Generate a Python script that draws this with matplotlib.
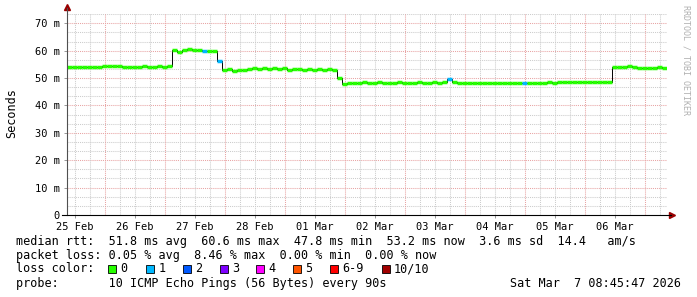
import matplotlib
matplotlib.use("Agg")
import matplotlib.pyplot as plt
import matplotlib.patches as mpatches
import numpy as np

plt.rcParams['font.family'] = ['DejaVu Sans Mono']

# median rtt (ms), one value every 2 hours starting 25 Feb 00:00 - 3.2 h
rtt_median = [
    54.2, 54.2, 54.1, 54.2, 54.2, 54.2, 54.2, 54.3, 54.3, 54.3, 54.3,
    54.2, 54.2, 54.2, 54.2, 54.3, 54.2, 54.2, 54.3, 54.2, 54.4,
    60.2, 59.6, 60.4, 60.6, 60.1, 60.3, 59.8, 59.9, 60.0,
    56.4,
    52.9, 53.4, 52.7, 53.1, 52.8, 53.3, 53.6, 53.3, 53.5, 53.4, 53.6, 53.2,
    53.5, 53.1, 53.3, 53.4, 53.0, 53.2, 52.9, 53.3, 53.1, 53.2, 52.8,
    50.0, 48.0,
    48.1, 48.3, 48.2, 48.4, 48.2, 48.3, 48.5, 48.2, 48.1, 48.3, 48.4, 48.2,
    48.3, 48.2, 48.4, 48.3, 48.2, 48.5, 48.3, 48.4, 49.6, 48.5, 48.3, 48.2,
    48.3, 48.1, 48.2, 48.3, 48.2, 48.1, 48.3, 48.2, 48.1, 48.2, 48.3, 48.2,
    48.1, 48.2, 48.3, 48.2, 48.4, 48.3, 48.5, 48.6, 48.5, 48.6, 48.5, 48.4,
    48.5, 48.6, 48.4, 48.5,
    48.7,
    54.0, 54.2, 53.9, 54.3, 54.0, 53.7, 53.5, 53.8, 53.6, 53.9, 53.7,
]
# samples with a lost ping (index -> loss bucket)
loss_points = {27: 1, 30: 1, 76: 1, 91: 1}

day_labels = ["25 Feb", "26 Feb", "27 Feb", "28 Feb", "01 Mar",
              "02 Mar", "03 Mar", "04 Mar", "05 Mar", "06 Mar"]
loss_labels = ["0", "1", "2", "3", "4", "5", "6-9", "10/10"]
loss_colors = ["#26ff00", "#00b8ff", "#0059ff", "#7e00ff",
               "#ff00ff", "#ff5500", "#ff0000", "#a10000"]

W, H = 697, 297
fig = plt.figure(figsize=(W / 100, H / 100), dpi=100)
fig.patch.set_facecolor("white")
ax = fig.add_axes([67 / W, (H - 215) / H, 600 / W, 201 / H])

t0, step = -3.2, 2.0
xmin, xmax = t0, t0 + step * len(rtt_median)
ymax = 73.4
ax.set_xlim(xmin, xmax)
ax.set_ylim(0, ymax)

# grid
dot = (0, (1, 1))
for v in np.arange(10 / 3, ymax, 10 / 3):
    if abs(v / 10 - round(v / 10)) > 0.01:
        ax.axhline(v, color="#cccccc", lw=0.75, ls=dot, zorder=1)
for v in range(10, 71, 10):
    ax.axhline(v, color="#e8a4a4", lw=0.75, ls=dot, zorder=1)
for h in np.arange(0, xmax, 6):
    if h % 24 != 12:
        ax.axvline(h, color="#cccccc", lw=0.75, ls=dot, zorder=1)
for h in np.arange(12, xmax, 24):
    ax.axvline(h, color="#e8a4a4", lw=0.75, ls=dot, zorder=1)

# median line
vals = np.array(rtt_median)
left = t0 + step * np.arange(len(vals))
right = left + step
ax.step(np.append(left, xmax), np.append(vals, vals[-1]), where="post",
        color="black", lw=0.7, zorder=3)
cols = [loss_colors[loss_points.get(i, 0)] for i in range(len(vals))]
ax.hlines(vals, left, right, colors=cols, lw=2.5, zorder=4)

# axes
for s in ax.spines.values():
    s.set_visible(False)
ax.plot([0, 0], [0, 1.03], transform=ax.transAxes, color="#505050",
        lw=0.8, clip_on=False, zorder=5)
ax.plot([-0.008, 1.006], [0, 0], transform=ax.transAxes, color="black",
        lw=0.8, clip_on=False, zorder=5)
ax.plot([0], [1.035], marker="^", ms=4, color="#990000",
        transform=ax.transAxes, clip_on=False)
ax.plot([1.008], [0], marker=">", ms=4, color="#990000",
        transform=ax.transAxes, clip_on=False)

yt = list(range(0, 71, 10))
ax.set_yticks(yt)
ax.set_yticklabels(["0"] + ["%d m" % v for v in yt[1:]], fontsize=7.5)
ax.set_xticks([24 * i for i in range(len(day_labels))])
ax.set_xticklabels(day_labels, fontsize=7.5)
ax.tick_params(axis="both", length=2, width=0.6, color="#888888", pad=3)

fig.text(12 / W, 1 - 113 / H, "Seconds", rotation=90, fontsize=8.5,
         ha="center", va="center")
fig.text(686 / W, 1 - 5 / H, "RRDTOOL / TOBI OETIKER", rotation=270,
         fontsize=6, color="#b0b0b0", ha="center", va="top")

# legend
fs = 8.5
fig.text(16 / W, 1 - 241 / H,
         "median rtt:  51.8 ms avg  60.6 ms max  47.8 ms min  53.2 ms now  3.6 ms sd  14.4   am/s",
         fontsize=fs, va="center")
fig.text(16 / W, 1 - 255 / H,
         "packet loss: 0.05 % avg  8.46 % max  0.00 % min  0.00 % now",
         fontsize=fs, va="center")
fig.text(16 / W, 1 - 269 / H, "loss color:", fontsize=fs, va="center")
box_x = [108, 145.7, 183, 219.5, 256, 293, 330, 381.5]
for bx, lab, c in zip(box_x, loss_labels, loss_colors):
    fig.patches.append(mpatches.Rectangle((bx / W, 1 - 273 / H), 8 / W, 8 / H,
                                          transform=fig.transFigure,
                                          facecolor=c, edgecolor="black",
                                          lw=0.6))
    fig.text((bx + 12.5) / W, 1 - 269 / H, lab, fontsize=fs, va="center")
fig.text(16 / W, 1 - 283.5 / H,
         "probe:       10 ICMP Echo Pings (56 Bytes) every 90s",
         fontsize=fs, va="center")
fig.text(681 / W, 1 - 283.5 / H, "Sat Mar  7 08:45:47 2026",
         fontsize=fs, va="center", ha="right")

fig.savefig("out.png", dpi=100, facecolor="white")
